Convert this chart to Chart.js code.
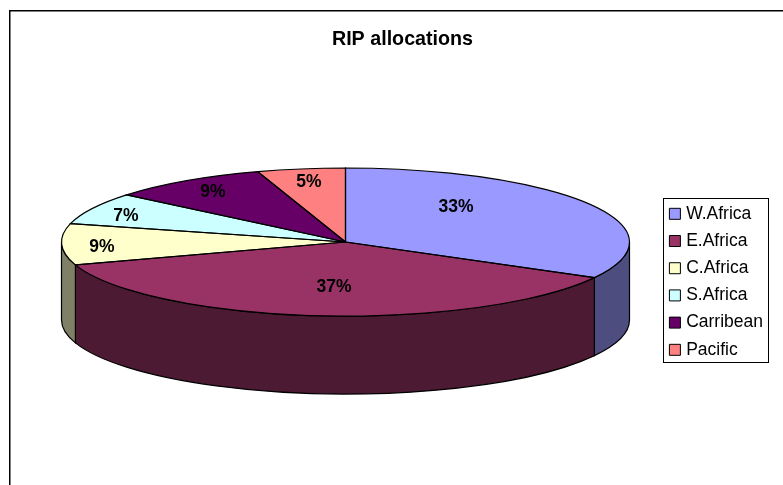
<!DOCTYPE html>
<html>
<head>
<meta charset="utf-8">
<title>RIP allocations</title>
<script src="https://cdn.jsdelivr.net/npm/chart.js@4"></script>
<style>
    html, body { margin: 0; padding: 0; background: #fff; }
    #grafico { display: block; }
</style>
</head>
<body>
<canvas id="grafico" width="783" height="485"></canvas>
<script>
const categorias = ['W.Africa', 'E.Africa', 'C.Africa', 'S.Africa', 'Carribean', 'Pacific'];
const valores = [33, 37, 9, 7, 9, 5];
const coresTopo = ['#9999FF', '#993366', '#FFFFCC', '#CCFFFF', '#660066', '#FF8080'];
const coresLateral = ['#4D4D80', '#4D1A33', '#808066', '#668080', '#330033', '#804040'];

// pie tilted to an ellipse, centre and radii in page pixels
const pizza = { x: 345.5, y: 242, rx: 284, ry: 74, altura: 78 };
// where Excel left the percent labels
const posRotulos = [[456, 207], [334, 287], [102, 247], [126, 216], [213, 192], [309, 182]];
const quadroLegenda = { x: 663.5, y: 198.5, w: 105, h: 164 };

const fonte = 'Liberation Sans';

const pizza3d = {
    id: 'pizza3d',
    beforeDraw(chart) {
        const ctx = chart.ctx;
        ctx.save();
        ctx.fillStyle = '#fff';
        ctx.fillRect(0, 0, chart.width, chart.height);
        // chart border, right and bottom sides fall outside the picture
        ctx.strokeStyle = '#000';
        ctx.lineWidth = 1.5;
        ctx.strokeRect(9.75, 10.75, 800, 500);
        ctx.lineWidth = 1;
        ctx.strokeRect(quadroLegenda.x, quadroLegenda.y, quadroLegenda.w, quadroLegenda.h);
        ctx.restore();
    },
    beforeDatasetsDraw(chart) {
        const ctx = chart.ctx;
        const arcos = chart.getDatasetMeta(0).data;
        const base = arcos[0];

        // side wall, only the part of each slice on the front half shows
        ctx.save();
        ctx.lineWidth = 1.2;
        ctx.strokeStyle = '#000';
        arcos.forEach(function (arco, i) {
            const ini = Math.max(arco.startAngle, 0);
            const fim = Math.min(arco.endAngle, Math.PI);
            if (fim <= ini) return;
            ctx.beginPath();
            ctx.ellipse(pizza.x, pizza.y, pizza.rx, pizza.ry, 0, ini, fim);
            ctx.ellipse(pizza.x, pizza.y + pizza.altura, pizza.rx, pizza.ry, 0, fim, ini, true);
            ctx.closePath();
            ctx.fillStyle = coresLateral[i];
            ctx.fill();
            ctx.stroke();
        });
        ctx.restore();

        ctx.save();
        ctx.translate(pizza.x, pizza.y);
        ctx.scale(pizza.rx / base.outerRadius, pizza.ry / base.outerRadius);
        ctx.translate(-base.x, -base.y);
    },
    afterDatasetsDraw(chart) {
        const ctx = chart.ctx;
        ctx.restore();

        // outlines stroked here so the scale does not distort the line width
        ctx.save();
        ctx.lineWidth = 1.2;
        ctx.strokeStyle = '#000';
        chart.getDatasetMeta(0).data.forEach(function (arco) {
            ctx.beginPath();
            ctx.moveTo(pizza.x, pizza.y);
            ctx.ellipse(pizza.x, pizza.y, pizza.rx, pizza.ry, 0, arco.startAngle, arco.endAngle);
            ctx.closePath();
            ctx.stroke();
        });

        ctx.fillStyle = '#000';
        ctx.font = 'bold 17.5px "' + fonte + '"';
        ctx.textAlign = 'center';
        ctx.textBaseline = 'middle';
        for (let i = 0; i < valores.length; i++) {
            ctx.fillText(valores[i] + '%', posRotulos[i][0], posRotulos[i][1]);
        }
        ctx.restore();
    }
};

new Chart(document.getElementById('grafico'), {
    type: 'pie',
    data: {
        labels: categorias,
        datasets: [{
            data: valores,
            backgroundColor: coresTopo,
            borderWidth: 0
        }]
    },
    options: {
        responsive: false,
        animation: false,
        layout: { padding: { left: 32, right: 10, top: 0, bottom: 0 } },
        plugins: {
            title: {
                display: true,
                text: 'RIP allocations',
                color: '#000',
                font: { family: fonte, size: 19.7, weight: 'bold' },
                padding: { top: 28, bottom: 27 }
            },
            legend: {
                position: 'right',
                fullSize: false,
                labels: {
                    color: '#000',
                    font: { family: fonte, size: 17.5 },
                    usePointStyle: true,
                    boxWidth: 5,
                    boxHeight: 11,
                    padding: 9.7,
                    generateLabels(chart) {
                        return categorias.map(function (nome, i) {
                            return { text: nome, fillStyle: coresTopo[i], strokeStyle: '#000', lineWidth: 1, pointStyle: 'rect', index: i };
                        });
                    }
                }
            },
            tooltip: { enabled: false }
        }
    },
    plugins: [pizza3d]
});
</script>
</body>
</html>
